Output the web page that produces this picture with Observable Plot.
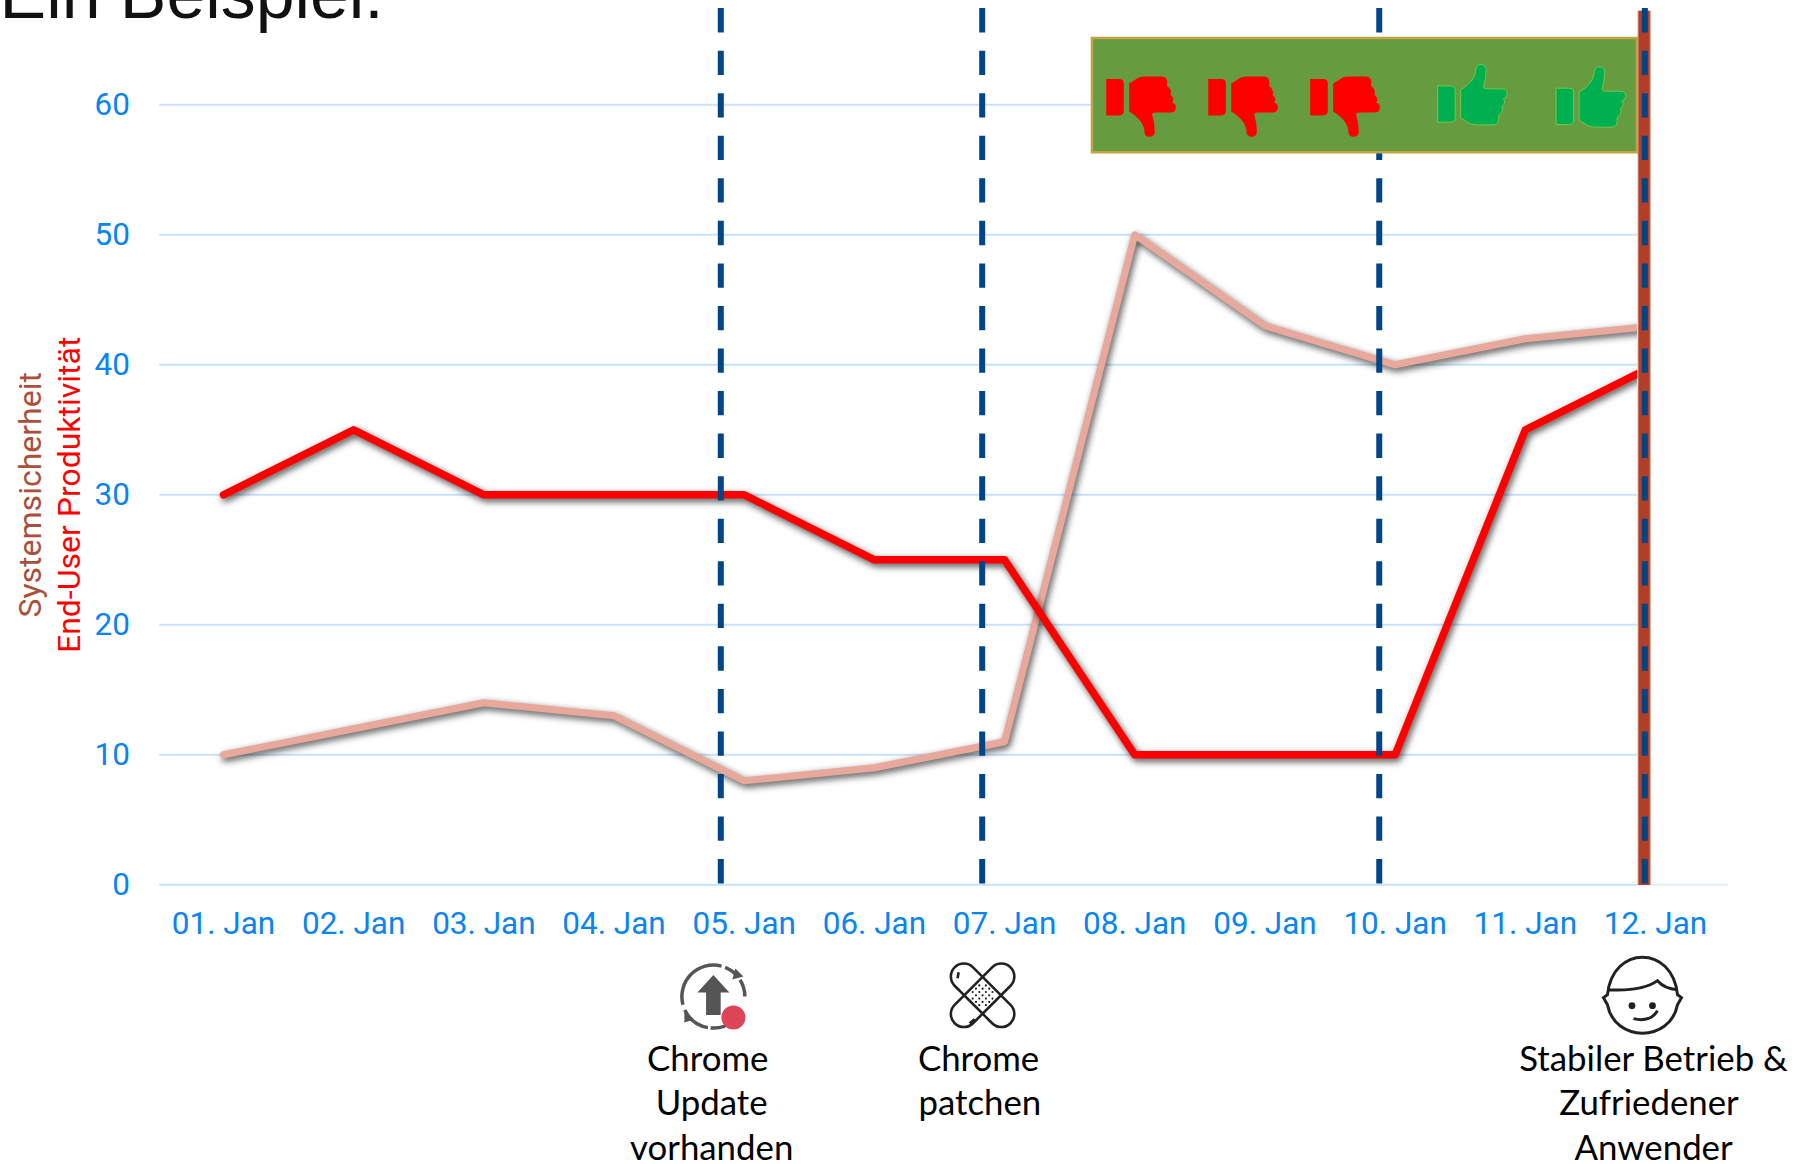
<!DOCTYPE html>
<html lang="de">
<head>
<meta charset="utf-8">
<script src="https://cdn.jsdelivr.net/npm/d3@7"></script>
<script src="https://cdn.jsdelivr.net/npm/@observablehq/plot@0.6"></script>
<style>
  html, body { margin: 0; padding: 0; background: #fff; }
  svg { display: block; }
  g[aria-label="line"] { filter: drop-shadow(2.5px 3px 3.5px rgba(0,0,0,.7)); }
</style>
</head>
<body>
<div id="chart"></div>
<script>
// ---- chart values ----
const days = [1, 2, 3, 4, 5, 6, 7, 8, 9, 10, 11, 12];
const dayLabels = ["01. Jan", "02. Jan", "03. Jan", "04. Jan", "05. Jan", "06. Jan", "07. Jan", "08. Jan", "09. Jan", "10. Jan", "11. Jan", "12. Jan"];
const produktivitaet = [30, 35, 30, 30, 30, 25, 25, 10, 10, 10, 35, 40];
const sicherheit = [10, 12, 14, 13, 8, 9, 11, 50, 43, 40, 42, 43];
const yTicks = [0, 10, 20, 30, 40, 50, 60];

// ---- annotations, in chart units (day, value) ----
const eventDays = [4.82, 6.828, 9.878];
const stableDay = 11.918;
const barDay = 11.913;
const thumbsDown = [{d: 8.048, v: 59.85}, {d: 8.832, v: 59.85}, {d: 9.615, v: 59.85}];
const thumbsUp = [{d: 10.594, v: 60.79}, {d: 11.504, v: 60.61}];
const captions = [
  {t: "Chrome", d: 4.72, v: -14.32},
  {t: "Update", d: 4.75, v: -17.72},
  {t: "vorhanden", d: 4.75, v: -21.17},
  {t: "Chrome", d: 6.80, v: -14.32},
  {t: "patchen", d: 6.81, v: -17.72},
  {t: "Stabiler Betrieb &", d: 11.985, v: -14.32},
  {t: "Zufriedener", d: 11.95, v: -17.72},
  {t: "Anwender", d: 11.985, v: -21.17}
];

// ---- glyphs drawn as Plot symbols ----
function thumb(ctx, flip) {
  const X = x => (x - 1076) / 2.613, Y = y => flip * (y - 282) / 3;
  const M = (x, y) => ctx.moveTo(X(x), Y(y)), L = (x, y) => ctx.lineTo(X(x), Y(y));
  const Q = (a, b, x, y) => ctx.quadraticCurveTo(X(a), Y(b), X(x), Y(y));
  // cuff
  M(985, 256); L(1018, 256); Q(1031, 256, 1031, 270); L(1031, 352); Q(1031, 365, 1018, 365); L(985, 365); ctx.closePath();
  // hand
  M(1045, 268);
  Q(1085, 240, 1085, 205); Q(1087, 192, 1097, 192); Q(1112, 192, 1112, 208);
  Q(1112, 235, 1105, 258); Q(1105, 265, 1115, 265);
  L(1155, 265); Q(1167, 267, 1167, 280); Q(1167, 292, 1157, 294);
  Q(1165, 307, 1153, 318); Q(1158, 333, 1144, 344); Q(1148, 373, 1130, 373);
  L(1085, 373); Q(1068, 372, 1060, 362); L(1045, 352); ctx.closePath();
}
const thumbUpSymbol = {draw: ctx => thumb(ctx, 1)};
const thumbDownSymbol = {draw: ctx => thumb(ctx, -1)};

const rad = a => a * Math.PI / 180;
const ringSymbol = {draw(ctx) {
  const r = 31.5;
  [[165, 285], [292, 322], [328, 360], [50, 95], [100, 155]].forEach(([a, b]) => {
    ctx.moveTo(r * Math.cos(rad(a)), r * Math.sin(rad(a)));
    ctx.arc(0, 0, r, rad(a), rad(b));
  });
}};
const arrowSymbol = {draw(ctx) {
  [[-16, -4], [-7.3, -4], [-7.3, 18.3], [7.3, 18.3], [7.3, -4], [16, -4]].reduce((c, p) => (c.lineTo(p[0], p[1]), c), (ctx.moveTo(0, -21.7), ctx));
  ctx.closePath();
  // the two small ring arrow heads
  ctx.moveTo(22, -28); ctx.lineTo(30, -20); ctx.lineTo(19, -17); ctx.closePath();
  ctx.moveTo(-29, 15); ctx.lineTo(-19, 23); ctx.lineTo(-29, 26); ctx.closePath();
}};
function capsule(ctx, deg) {
  const a = 26.5, w = 13, t = rad(deg), c = Math.cos(t), s = Math.sin(t);
  const R = (x, y) => [x * c - y * s, x * s + y * c];
  ctx.moveTo(...R(-a, -w)); ctx.lineTo(...R(a, -w));
  ctx.arc(...R(a, 0), w, t - Math.PI / 2, t + Math.PI / 2);
  ctx.lineTo(...R(-a, w));
  ctx.arc(...R(-a, 0), w, t + Math.PI / 2, t + 3 * Math.PI / 2);
  ctx.closePath();
}
const plasterSymbol = {draw(ctx) {
  capsule(ctx, 45); capsule(ctx, -45);
  ctx.moveTo(-25, -17); ctx.lineTo(-24, -23);
  ctx.moveTo(-8, 24); ctx.lineTo(-13, 28);
}};
const plasterDotsSymbol = {draw(ctx) {
  for (let i = -2; i <= 2; i++) for (let j = -2; j <= 2; j++) {
    if (Math.abs(i) + Math.abs(j) > 3) continue;
    const x = (i - j) * 3.3, y = (i + j) * 3.3;
    ctx.moveTo(x + 1.1, y); ctx.arc(x, y, 1.1, 0, 2 * Math.PI);
  }
}};
const faceSymbol = {draw(ctx) {
  ctx.moveTo(-35, 0);
  ctx.bezierCurveTo(-30, -50, 30, -50, 35, 0);
  ctx.lineTo(39, 3); ctx.lineTo(35, 10);
  ctx.bezierCurveTo(28, 48, -28, 48, -35, 10);
  ctx.lineTo(-39, 3); ctx.closePath();
  ctx.moveTo(-35, -5);
  ctx.quadraticCurveTo(0, -3, 15, -14);
  ctx.quadraticCurveTo(22, -6, 35, -5);
  ctx.moveTo(-9, 24);
  ctx.quadraticCurveTo(8, 28, 15, 16);
}};
const eyesSymbol = {draw(ctx) {
  [-10.5, 10].forEach(x => { ctx.moveTo(x + 3.4, 0); ctx.arc(x, 0, 3.4, 0, 2 * Math.PI); });
}};

const chart = Plot.plot({
  width: 1794,
  height: 1164,
  marginLeft: 160,
  marginRight: 157,
  marginTop: 0,
  marginBottom: 280,
  style: {fontFamily: "Roboto, sans-serif", background: "#fff", overflow: "hidden"},
  x: {domain: [1, 12], range: [223, 1655], axis: null},
  y: {domain: [0, 60], range: [884.3, 104.3], axis: null},
  marks: [
    // gridlines stop at the brown bar; only the baseline runs on
    Plot.ruleY([0], {x1: 11.86, x2: 12.56, stroke: "#e2f0fd", strokeWidth: 2}),
    Plot.ruleY(yTicks, {x1: 0.51, x2: 11.86, stroke: "#c6e2fc", strokeWidth: 2}),

    Plot.axisY({ticks: yTicks, tickSize: 0, tickPadding: 30.5, label: null, fontSize: 31.5, color: "#0a84f0"}),
    Plot.axisX({ticks: days, tickFormat: d => dayLabels[d - 1], tickSize: 0, tickPadding: 27.5, label: null, fontSize: 31.5, color: "#0a84f0"}),

    Plot.line(days, {x: d => d, y: (d, i) => sicherheit[i], stroke: "#e8a89c", strokeWidth: 7, clip: true}),
    Plot.line(days, {x: d => d, y: (d, i) => produktivitaet[i], stroke: "#ff0000", strokeWidth: 7.5, clip: true}),

    Plot.ruleX(eventDays, {y1: 67.4, y2: 0, stroke: "#004586", strokeWidth: 6, strokeDasharray: "24.3,18.25"}),

    Plot.rect([0], {x1: 7.675, x2: 11.862, y1: 56.31, y2: 65.1, fill: "#669c3f", stroke: "#bfa546", strokeWidth: 2.5}),
    Plot.dot(thumbsDown, {x: "d", y: "v", symbol: thumbDownSymbol, fill: "#ff0000"}),
    Plot.dot(thumbsUp, {x: "d", y: "v", symbol: thumbUpSymbol, fill: "#00b050", stroke: "#70c84a", strokeWidth: 1}),

    Plot.ruleX([barDay], {y1: 67.2, y2: -0.05, stroke: "#d08a78", strokeWidth: 13}),
    Plot.ruleX([barDay], {y1: 67.2, y2: -0.05, stroke: "#b13f27", strokeWidth: 11}),
    Plot.ruleX([stableDay], {y1: 67.4, y2: 0, stroke: "#004586", strokeWidth: 6, strokeDasharray: "24.3,18.25"}),

    // title, cut off by the top edge as in the reference
    Plot.text(["Ein Beispiel:"], {x: -0.72, y: 66.65, text: d => d, textAnchor: "start", lineAnchor: "bottom", fontFamily: "Liberation Sans, Arial, sans-serif", fontSize: 69.8, fill: "#111"}),

    // axis titles
    Plot.text(["Systemsicherheit"], {x: 0.6875, y: 30, text: d => d, rotate: -90, fontSize: 32, fill: "#a9503a", dx: -152}),
    Plot.text(["End-User Produktivität"], {x: 0.6875, y: 30, text: d => d, rotate: -90, fontSize: 32, fill: "#ff0000", dx: -113.5}),

    // event icons
    Plot.dot([0], {x: 4.763, y: -8.6, symbol: ringSymbol, fill: "none", stroke: "#555", strokeWidth: 3.5}),
    Plot.dot([0], {x: 4.763, y: -8.6, symbol: arrowSymbol, fill: "#555"}),
    Plot.dot([0], {x: 4.917, y: -10.2, r: 12, fill: "#dc4458"}),
    Plot.dot([0], {x: 6.831, y: -8.5, symbol: plasterSymbol, fill: "none", stroke: "#222", strokeWidth: 2.6}),
    Plot.dot([0], {x: 6.831, y: -8.5, symbol: plasterDotsSymbol, fill: "#222"}),
    Plot.dot([0], {x: 11.9, y: -8.45, symbol: faceSymbol, fill: "none", stroke: "#222", strokeWidth: 3}),
    Plot.dot([0], {x: 11.9, y: -9.3, symbol: eyesSymbol, fill: "#222"}),

    // captions
    Plot.text(captions, {x: "d", y: "v", text: "t", lineAnchor: "bottom", fontFamily: "Lato, sans-serif", fontSize: 34.8, fill: "#000"})
  ]
});
document.getElementById("chart").append(chart);
</script>
</body>
</html>
